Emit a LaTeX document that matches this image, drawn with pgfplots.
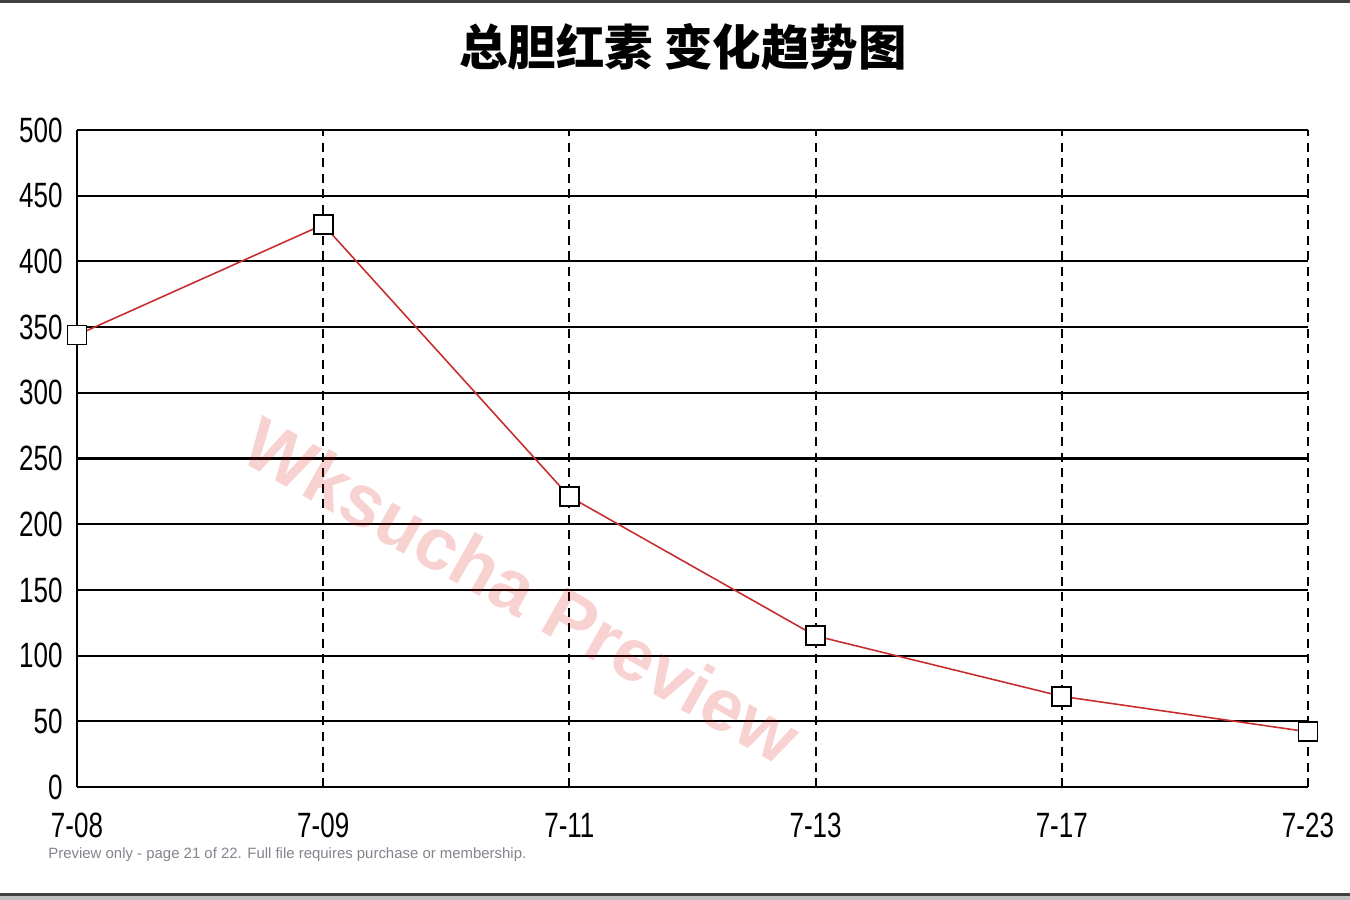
\documentclass[border=0pt]{standalone}
\usepackage{fontspec}
\setmainfont{Liberation Sans}
\newfontfamily\narrow{Liberation Sans}[FakeStretch=0.74]
\newfontfamily\cjk{Noto Sans CJK SC}
\usepackage{pgfplots}
\pgfplotsset{compat=1.18}

\pgfplotstableread{
x  y
0  344
1  428
2  221
3  115
4  69
5  42
}\tbilirubin

\begin{document}
\begin{tikzpicture}[x=1cm,y=1cm]
\path[use as bounding box] (0,0) rectangle (13.5,9);
% page frame lines
\fill[black!75] (0,8.97) rectangle (13.5,9);
\fill[black!75] (0,0.04) rectangle (13.5,0.07);
\fill[black!25] (0,0) rectangle (13.5,0.04);

\node[font=\cjk\bfseries\fontsize{13.8}{14}\selectfont] at (6.83,8.53) {总胆红素 变化趋势图};

\begin{axis}[
  at={(0.77cm,1.13cm)}, anchor=south west,
  scale only axis,
  width=12.31cm, height=6.57cm,
  xmin=0, xmax=5, ymin=0, ymax=500,
  axis x line*=bottom, axis y line*=left,
  axis line style={black, line width=0.6pt},
  clip=false,
  xtick={0,...,5},
  xticklabels={7-08,7-09,7-11,7-13,7-17,7-23},
  ytick={0,50,...,500},
  major tick length=0pt,
  /pgf/number format/assume math mode=true,
  tick label style={font=\narrow\fontsize{10}{10}\selectfont},
  xticklabel style={yshift=-1.4mm},
  yticklabel style={xshift=-0.2mm},
  xmajorgrids, ymajorgrids,
  x grid style={black, line width=0.55pt, dash pattern=on 0.9mm off 0.65mm},
  y grid style={black, line width=0.6pt},
]
\addplot[color={rgb,255:red,200;green,45;blue,45}, line width=0.45pt,
  mark=square*, mark size=0.95mm,
  mark options={solid, fill=white, draw=black, line width=0.55pt}]
  table[x=x, y=y] {\tbilirubin};
\end{axis}

\node[rotate=-29.5, text=red!85!black, opacity=0.18,
  font=\bfseries\fontsize{21}{21}\selectfont] at (5.22,3.1) {Wksucha Preview};
\node[anchor=west, text={rgb,255:red,130;green,132;blue,140},
  font=\fontsize{4.25}{5}\selectfont] at (0.36,0.45)
  {Preview only - page 21 of 22. Full file requires purchase or membership.};
\end{tikzpicture}
\end{document}
